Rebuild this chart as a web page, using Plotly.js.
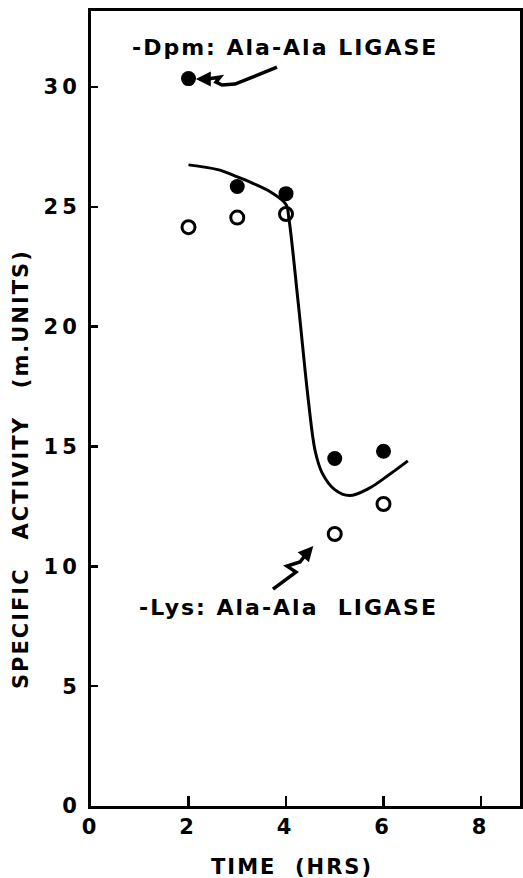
<!DOCTYPE html>
<html>
<head>
<meta charset="utf-8">
<script src="https://cdn.plot.ly/plotly-3.0.1.min.js"></script>
<style>
html,body{margin:0;padding:0;background:#fff;}
#chart{width:523px;height:878px;}
#chart .xtick text, #chart .ytick text{letter-spacing:4px;}
#chart .annotation-text{letter-spacing:2px;}
</style>
</head>
<body>
<div id="chart"></div>
<script>
// Data
const timeHrs = [2, 3, 4, 5, 6];
const dpmLigase = [30.35, 25.85, 25.55, 14.5, 14.8];   // filled circles
const lysLigase = [24.15, 24.55, 24.7, 11.35, 12.6];   // open circles
// hand-drawn fitted curve
const curveX = [2.0, 2.6, 3.0, 3.3, 3.7, 4.0, 4.06, 4.25, 4.46, 4.6, 4.74, 5.0, 5.3, 5.7, 6.1, 6.5];
const curveY = [26.75, 26.55, 26.25, 26.0, 25.6, 25.1, 24.5, 21.0, 16.9, 14.8, 13.9, 13.2, 12.95, 13.25, 13.8, 14.4];
// annotation arrows (data coordinates)
const topArrowX = [3.815, 3.364, 2.954, 2.687, 2.564, 2.646, 2.38];
const topArrowY = [30.83, 30.45, 30.12, 30.08, 30.2, 30.41, 30.33];
const botArrowX = [3.733, 4.205, 4.021, 4.287, 4.45];
const botArrowY = [9.05, 9.76, 10.01, 10.18, 10.6];
const xTicks = [0, 2, 4, 6, 8];
const yTicks = [0, 5, 10, 15, 20, 25, 30];
const xTitle = "TIME  (HRS)";
const yTitle = "SPECIFIC   ACTIVITY   (m.UNITS)";
const dpmLabel = "-Dpm: Ala-Ala LIGASE";
const lysLabel = "-Lys: Ala-Ala  LIGASE";

const FONT = "DejaVu Sans, sans-serif";

function pathFrom(xs, ys) {
  let d = "M " + xs[0] + "," + ys[0];
  for (let i = 1; i < xs.length; i++) d += " L " + xs[i] + "," + ys[i];
  return d;
}

const traces = [
  {x: curveX, y: curveY, mode: "lines", line: {color: "#000", width: 3, shape: "spline", smoothing: 1}, hoverinfo: "skip", showlegend: false},
  {x: timeHrs, y: dpmLigase, mode: "markers", marker: {symbol: "circle", size: 15, color: "#000"}, showlegend: false},
  {x: timeHrs, y: lysLigase, mode: "markers", marker: {symbol: "circle-open", size: 13, color: "#000", line: {width: 3, color: "#000"}}, showlegend: false}
];

const layout = {
  width: 523, height: 878,
  margin: {l: 91, r: 3, t: 11, b: 72},
  paper_bgcolor: "#fff", plot_bgcolor: "#fff",
  font: {family: FONT, color: "#000"},
  showlegend: false,
  xaxis: {
    range: [0, 8.8], tickvals: xTicks, ticktext: xTicks.map(String),
    ticks: "inside", ticklen: 10, tickwidth: 2.5, tickcolor: "#000",
    showline: true, linewidth: 3, linecolor: "#000", mirror: true,
    showgrid: false, zeroline: false,
    tickfont: {family: FONT, size: 21, weight: "bold"}
  },
  yaxis: {
    range: [0, 33.17], tickvals: yTicks, ticktext: yTicks.map(String),
    ticks: "inside", ticklen: 7, tickwidth: 2.5, tickcolor: "#000",
    showline: true, linewidth: 3, linecolor: "#000", mirror: true,
    showgrid: false, zeroline: false,
    tickfont: {family: FONT, size: 21, weight: "bold"},
    ticklabelstandoff: 3
  },
  shapes: [
    {type: "path", xref: "x", yref: "y", path: pathFrom(topArrowX, topArrowY), line: {color: "#000", width: 3.5}},
    {type: "path", xref: "x", yref: "y", path: pathFrom(botArrowX, botArrowY), line: {color: "#000", width: 3.5}}
  ],
  annotations: [
    {x: 3.98, y: 31.66, xref: "x", yref: "y", xanchor: "center", yanchor: "middle", showarrow: false,
     text: dpmLabel, font: {family: FONT, size: 22, weight: "bold"}},
    {x: 4.05, y: 8.30, xref: "x", yref: "y", xanchor: "center", yanchor: "middle", showarrow: false,
     text: lysLabel, font: {family: FONT, size: 22, weight: "bold"}},
    {x: 4.12, y: -0.077, xref: "x", yref: "paper", xanchor: "center", yanchor: "middle", showarrow: false,
     text: xTitle, font: {family: FONT, size: 21, weight: "bold"}},
    {x: -0.163, y: 14.06, xref: "paper", yref: "y", xanchor: "center", yanchor: "middle", showarrow: false, textangle: -90,
     text: yTitle, font: {family: FONT, size: 21, weight: "bold"}},
    {x: 2.15, y: 30.33, ax: topArrowX[topArrowX.length-1], ay: topArrowY[topArrowY.length-1], axref: "x", ayref: "y", xref: "x", yref: "y",
     showarrow: true, arrowhead: 2, arrowsize: 1, arrowwidth: 3, arrowcolor: "#000", text: ""},
    {x: 4.56, y: 10.85, ax: botArrowX[botArrowX.length-1], ay: botArrowY[botArrowY.length-1], axref: "x", ayref: "y", xref: "x", yref: "y",
     showarrow: true, arrowhead: 2, arrowsize: 1, arrowwidth: 3, arrowcolor: "#000", text: ""}
  ]
};

Plotly.newPlot("chart", traces, layout, {displayModeBar: false, staticPlot: true});
</script>
</body>
</html>
